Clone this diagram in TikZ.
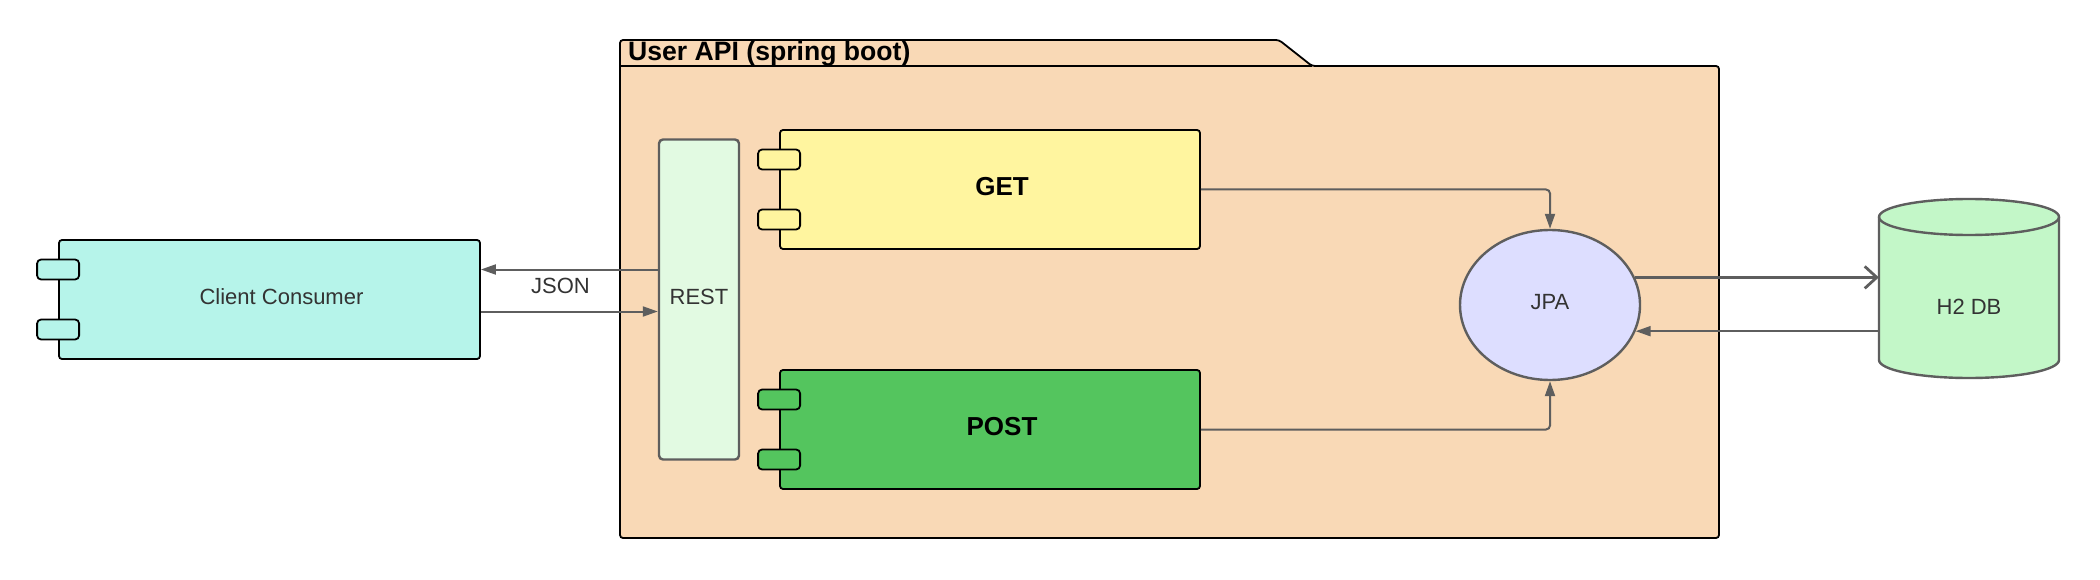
\documentclass[tikz,border=0pt]{standalone}
\usepackage{fontspec}
\setmainfont{Liberation Sans}
\usetikzlibrary{arrows.meta,positioning,calc,shapes.geometric}

\definecolor{folderpeach}{HTML}{F9D9B6}
\definecolor{clientcyan}{HTML}{B6F4EA}
\definecolor{getyellow}{HTML}{FFF59F}
\definecolor{postgreen}{HTML}{54C55E}
\definecolor{restgreen}{HTML}{E2FAE2}
\definecolor{jpablue}{HTML}{DDDEFF}
\definecolor{dbgreen}{HTML}{C3F7C8}
\definecolor{linegray}{HTML}{5E5E5E}
\definecolor{textgray}{HTML}{333333}

\begin{document}
\begin{tikzpicture}[x=1pt, y=-1pt,
    box/.style={draw=black, line width=1.8pt, rounded corners=3pt, minimum height=119pt},
    port/.style={draw=black, line width=1.8pt, rounded corners=4pt, minimum width=42pt, minimum height=20pt, inner sep=0pt},
    grayshape/.style={draw=linegray, line width=2.4pt},
    conn/.style={draw=linegray, line width=2pt, -{Triangle[length=15pt,width=10pt]}},
    lbl/.style={font=\fontsize{22}{26}\selectfont, text=textgray, text depth=5.5pt},
    boldlbl/.style={font=\fontsize{26}{30}\selectfont\bfseries, text=black, text depth=6pt}]

    \path[use as bounding box, fill=white] (0,0) rectangle (2100,580);

    % Folder
    \draw[line width=1.8pt, fill=folderpeach, rounded corners=3pt]
        (620,538) -- (620,40) -- (1279,40) -- (1312,66) -- (1719,66) -- (1719,538) -- cycle;
    \draw[line width=1.8pt] (620,66) -- (1312,66);
    \node[boldlbl, font=\fontsize{26.6}{30}\selectfont\bfseries, anchor=base west, inner sep=0pt] (title) at (628,61) {User API (spring boot)};

    % REST
    \node[grayshape, fill=restgreen, rounded corners=4pt, minimum width=80pt, minimum height=320pt, lbl] (rest) at (699,299.5) {REST};

    % Components
    \node[box, fill=getyellow, minimum width=420pt, label={[boldlbl, xshift=12pt]center:GET}] (get) at (990,189.5) {};
    \node[box, fill=postgreen, minimum width=420pt, label={[boldlbl, xshift=12pt]center:POST}] (post) at (990,429.5) {};
    \node[box, fill=clientcyan, minimum width=421pt, label={[lbl, xshift=12pt]center:Client Consumer}] (client) at (269.5,299.5) {};

    % Ports
    \foreach \c/\col in {client/clientcyan, get/getyellow, post/postgreen}
        \foreach \s/\n in {30/a, -30/b}
            \node[port, fill=\col] (\c-\n) at ([yshift=\s pt]\c.west) {};

    % JPA
    \node[grayshape, ellipse, fill=jpablue, minimum width=180pt, minimum height=150pt, lbl] (jpa) at (1550,305) {JPA};

    % H2 DB
    \draw[grayshape, fill=dbgreen] (1879,217) -- (1879,360)
        arc[start angle=180, end angle=360, x radius=90pt, y radius=18pt] -- (2059,217)
        arc[start angle=0, end angle=180, x radius=90pt, y radius=18pt] -- cycle;
    \draw[grayshape] (1879,217) arc[start angle=180, end angle=360, x radius=90pt, y radius=18pt];
    \node[lbl, minimum width=180pt] (db) at (1969,309.5) {H2 DB};

    % Connectors
    \draw[conn] ([yshift=30pt]rest.west) -- ([yshift=30pt]client.east) node[lbl, pos=0.55, below=4pt] (json) {JSON};
    \draw[conn] ([yshift=-12pt]client.east) -- ([yshift=-12pt]rest.west);
    \draw[conn, rounded corners=4pt] (get.east) -| (jpa.north);
    \draw[conn, rounded corners=4pt] (post.east) -| (jpa.south);
    \draw[conn, line width=2.8pt, -{Straight Barb[length=12pt,width=22pt]}] (jpa.18.5) -- (db.west |- jpa.18.5);
    \draw[conn] (db.west |- jpa.-17.1) -- (jpa.-17.1);
\end{tikzpicture}
\end{document}
